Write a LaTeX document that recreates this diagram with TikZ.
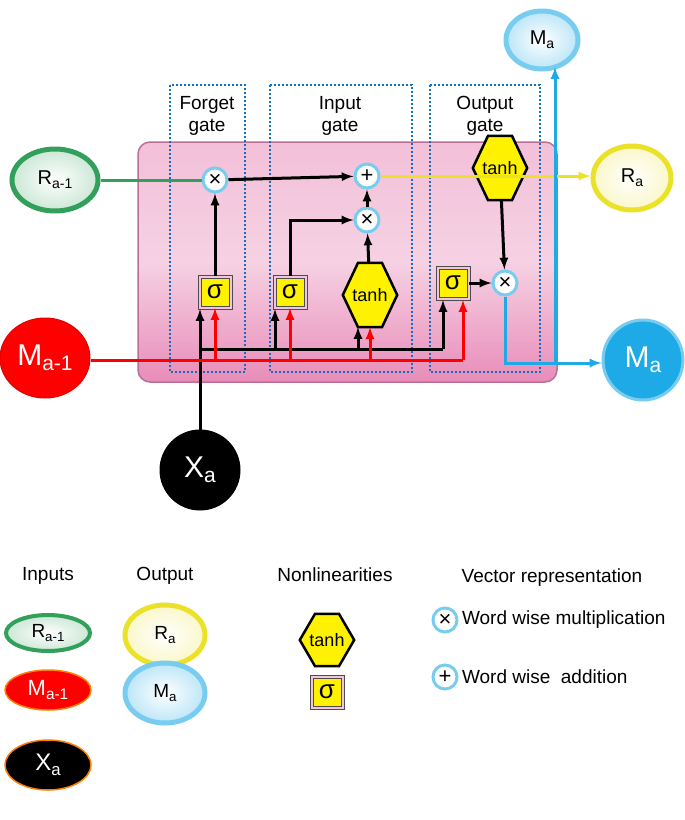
\documentclass[tikz,border=0pt]{standalone}
\usepackage{fontspec}
\setmainfont{Liberation Sans}
\usetikzlibrary{shapes.geometric,calc}
\definecolor{cgreen}{RGB}{50,160,90}
\definecolor{cyel}{RGB}{235,225,40}
\definecolor{cblue}{RGB}{30,170,230}
\definecolor{cpink}{RGB}{232,140,185}
\definecolor{cdot}{RGB}{20,110,190}
\newcommand\lbl[2]{#1\raisebox{-0.35ex}{\scalebox{0.7}{#2}}}
\newcommand\hexa[4]{%
  \node[minimum width=#3,minimum height=#4,inner sep=0] (#1) at (#2) {};
  \filldraw[fill=yellow,draw=black,line width=2.5pt] (#1.west) -- ($(#1.north west)!.28!(#1.north east)$)
    -- ($(#1.north west)!.72!(#1.north east)$) -- (#1.east) -- ($(#1.south west)!.72!(#1.south east)$)
    -- ($(#1.south west)!.28!(#1.south east)$) -- cycle;
  \node[font=\fontsize{18}{18}\selectfont] at (#1) {tanh};}
\tikzset{
  op/.style={circle,draw=cblue!60,line width=3pt,fill=white,minimum size=24pt,inner sep=0,font=\fontsize{22}{22}\selectfont},
  sig/.style={draw=gray!60!black,double=cpink!50,double distance=2pt,line width=1pt,fill=yellow,minimum size=31pt,inner sep=0,font=\fontsize{26}{26}\selectfont},
  gate/.style={draw=cdot,dotted,line width=2pt},
  ein/.style={ellipse,draw=cgreen,line width=5pt,inner color=white,outer color=cgreen!25},
  eyel/.style={ellipse,draw=cyel,line width=5pt,inner color=white,outer color=cyel!25},
  ered/.style={ellipse,draw=red!90!black,fill=red,text=white,line width=1pt},
  eblk/.style={ellipse,draw=black,fill=black,text=white,line width=1pt},
  eblu/.style={ellipse,draw=cblue!60,fill=cblue,line width=3pt},
  lab/.style={font=\fontsize{19}{22}\selectfont},
  blk/.style={-latex,black,line width=3pt},
  rd/.style={-latex,red,line width=3pt},
  bl/.style={-latex,cblue,line width=3pt}
}
\begin{document}
\begin{tikzpicture}[x=1pt,y=-1pt]
\useasboundingbox (0,0) rectangle (685,820);
% cell
\shade[rounded corners=12pt,top color=cpink!55,bottom color=cpink,middle color=cpink!40,draw=cpink!80!black,line width=1.5pt] (138,142) rectangle (557,382);
\draw[gate] (170,85) rectangle (245,372);
\draw[gate] (270,85) rectangle (412,372);
\draw[gate] (430,85) rectangle (540,372);
\node[lab,align=center] (tf) at (207,116) {Forget\\gate};
\node[lab,align=center] (ti) at (340,116) {Input\\gate};
\node[lab,align=center] (to) at (485,116) {Output\\gate};
% outer nodes
\node[ein,minimum width=86pt,minimum height=62pt,font=\fontsize{20}{20}\selectfont] (rin) at (55,180) {\lbl{R}{a-1}};
\node[ered,minimum width=90pt,minimum height=80pt,font=\fontsize{30}{30}\selectfont] (min) at (45,358) {\lbl{M}{a-1}};
\node[eblk,minimum width=80pt,minimum height=80pt,font=\fontsize{30}{30}\selectfont] (xin) at (200,470) {\lbl{X}{a}};
\node[eblu,inner color=white,outer color=cblue!30,line width=5pt,minimum width=72pt,minimum height=58pt,font=\fontsize{20}{20}\selectfont] (mtop) at (542,40) {\lbl{M}{a}};
\node[eyel,minimum width=78pt,minimum height=64pt,font=\fontsize{20}{20}\selectfont] (rout) at (632,178) {\lbl{R}{a}};
\node[eblu,minimum width=80pt,minimum height=80pt,text=white,font=\fontsize{30}{30}\selectfont] (mout) at (643,360) {\lbl{M}{a}};
% operators
\node[op] (m1) at (215,180) {×};
\node[op] (p1) at (367,176) {+};
\node[op] (m2) at (367,220) {×};
\node[op] (m3) at (505,283) {×};
\node[sig] (s1) at (215,292) {σ};
\node[sig] (s2) at (290,292) {σ};
\node[sig] (s3) at (453,283) {σ};
\hexa{h1}{370,295}{54pt}{64pt}
\hexa{h2}{500,168}{54pt}{64pt}
% connectors
\draw[cgreen,line width=3pt] (rin.east |- m1) -- (m1);
\draw[blk] (m1) -- (p1);
\draw[cyel,line width=3pt,-latex] (p1) -- (rout.west |- p1);
\draw[blk] (s1) -- (m1);
\draw[blk] (s2.north) |- (m2);
\draw[blk] (h1) -- (m2);
\draw[blk] (m2) -- (p1);
\draw[blk] (h2) -- (m3);
\draw[blk] (s3) -- (m3);
\coordinate (ma) at (505,363);
\coordinate (mb) at (555,363);
\coordinate (mc) at (555,67);
\draw[bl] (m3) -- (ma) -- (mout.west |- ma);
\draw[bl] (mb) -- (mc);
% inputs
\draw[blk] (xin) -- (200,309);
\draw[black,line width=3pt] (200,349) -- (443,349);
\draw[blk] (275,349) -- (275,309);
\draw[blk] (358,349) -- (358,327);
\draw[blk] (443,349) -- (443,300);
\draw[red,line width=3pt] (min.east |- 0,360) -- (463,360);
\draw[rd] (215,360) -- (s1);
\draw[rd] (290,360) -- (s2);
\draw[rd] (370,360) -- (h1);
\draw[rd] (463,360) -- (463,300);
% legend
\node[lab] (li) at (48,576) {Inputs};
\node[lab] (lo) at (165,576) {Output};
\node[lab] (ln) at (335,575) {Nonlinearities};
\node[lab] (lv) at (552,578) {Vector representation};
\node[ein,line width=4pt,minimum width=84pt,minimum height=36pt,font=\fontsize{19}{19}\selectfont] (k1) at (48,633) {\lbl{R}{a-1}};
\node[ered,draw=orange,line width=1.5pt,minimum width=86pt,minimum height=40pt,font=\fontsize{22}{22}\selectfont] (k2) at (48,690) {\lbl{M}{a-1}};
\node[eblk,draw=orange,line width=1.5pt,minimum width=86pt,minimum height=50pt,font=\fontsize{24}{24}\selectfont] (k3) at (48,765) {\lbl{X}{a}};
\node[eyel,minimum width=80pt,minimum height=60pt,font=\fontsize{19}{19}\selectfont] (k4) at (165,635) {\lbl{R}{a}};
\node[eblu,inner color=white,outer color=cblue!30,line width=5pt,minimum width=80pt,minimum height=60pt,font=\fontsize{19}{19}\selectfont] (k5) at (165,693) {\lbl{M}{a}};
\hexa{k6}{327,640}{54pt}{52pt}
\node[sig] (k7) at (327,692) {σ};
\node[op] (k8) at (445,620) {×};
\node[op] (k9) at (445,677) {+};
\node[lab,anchor=west] (k8t) at (k8.east) {Word wise multiplication};
\node[lab,anchor=west] (k9t) at (k9.east) {Word wise\ \ addition};
\end{tikzpicture}
\end{document}
